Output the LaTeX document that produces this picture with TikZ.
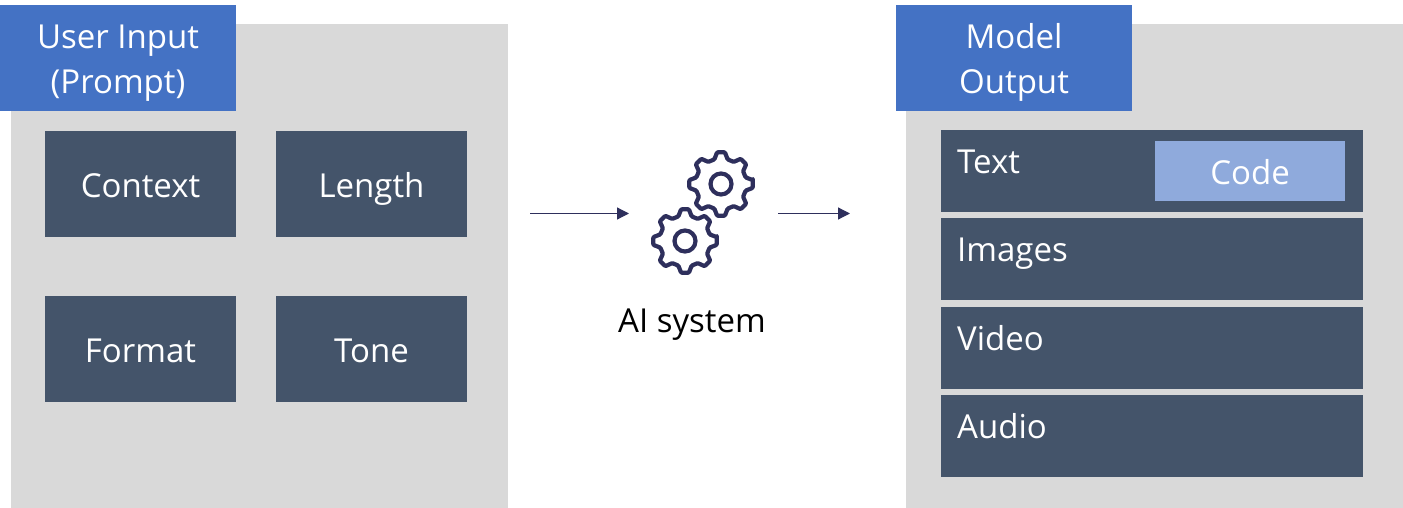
\documentclass[tikz,border=0pt]{standalone}
\usepackage{fontspec}
\setmainfont{Open Sans}
\definecolor{panelgrey}{HTML}{D9D9D9}
\definecolor{tagblue}{HTML}{4472C4}
\definecolor{slate}{HTML}{44546A}
\definecolor{codeblue}{HTML}{8FAADC}
\definecolor{iconnavy}{HTML}{2E2F5C}
\usetikzlibrary{arrows.meta}
\tikzset{
  x=1pt,y=-1pt,
  blocktext/.style={font=\fontsize{33}{33}\selectfont,text=white,inner sep=0pt},
  panel/.style={fill=panelgrey,draw=none},
  tag/.style={fill=tagblue,draw=none},
  dark/.style={fill=slate,draw=none},
  flow/.style={draw=iconnavy,line width=1.2pt,-{Triangle[length=12pt,width=12pt]}},
  gearline/.style={draw=iconnavy,line width=4.2pt,line join=round,fill=white},
}
\newcommand{\gearshape}[2]{%
  \begin{scope}[shift={(#1,#2)}]
    \draw[white,line width=9pt,fill=white,rounded corners=1pt]
      (-7:32) \foreach \a in {0,45,...,315} {
        -- ({\a-7}:32) -- ({\a+7}:32) -- ({\a+15}:25.5) -- ({\a+30}:25.5)
      } -- cycle;
    \draw[gearline,rounded corners=1pt]
      (-7:32) \foreach \a in {0,45,...,315} {
        -- ({\a-7}:32) -- ({\a+7}:32) -- ({\a+15}:25.5) -- ({\a+30}:25.5)
      } -- cycle;
    \draw[gearline] (0,0) circle (10.5);
  \end{scope}}
\begin{document}
\begin{tikzpicture}
\useasboundingbox (0,0) rectangle (1403,508);
\fill[white] (0,0) rectangle (1403,508);
% left panel
\fill[panel] (11,24) rectangle (508,508);
\fill[tag] (0,5) rectangle (236,111.5);
\node[blocktext,anchor=base] (ui1) at (118,49) {User Input};
\node[blocktext,anchor=base] (ui2) at (118,94) {(Prompt)};
\foreach \xa/\ya/\nm/\lab in {45/131/ctx/Context,276/131/len/Length,45/296/fmt/Format,276/296/ton/Tone}{
  \fill[dark] (\xa,\ya) rectangle ++(191,106);
  \node[blocktext,anchor=base] (\nm) at ({\xa+95.5},{\ya+66}) {\lab};
}
% right panel
\fill[panel] (906,24) rectangle (1403,508);
\fill[tag] (896,5) rectangle (1132,111.5);
\node[blocktext,anchor=base] (mo1) at (1014,49) {Model};
\node[blocktext,anchor=base] (mo2) at (1014,94) {Output};
\foreach \ya/\nm/\lab in {130/txt/Text,218/img/Images,307/vid/Video,395/aud/Audio}{
  \fill[dark] (941,\ya) rectangle (1363,{\ya+82});
  \node[blocktext,anchor=base west] (\nm) at (957,{\ya+43}) {\lab};
}
\fill[codeblue] (1155,141) rectangle (1345,201);
\node[blocktext,anchor=base] (code) at (1250,184) {Code};
% centre
\gearshape{685}{241}
\gearshape{721}{184}
\node[font=\fontsize{33}{33}\selectfont,text=black,inner sep=0pt,anchor=base] (ai) at (692,332) {AI system};
\coordinate (a1) at (530,213.5);
\coordinate (a2) at (629,213.5);
\coordinate (b1) at (778,213.5);
\coordinate (b2) at (850,213.5);
\draw[flow] (a1) -- (a2);
\draw[flow] (b1) -- (b2);
\end{tikzpicture}
\end{document}
